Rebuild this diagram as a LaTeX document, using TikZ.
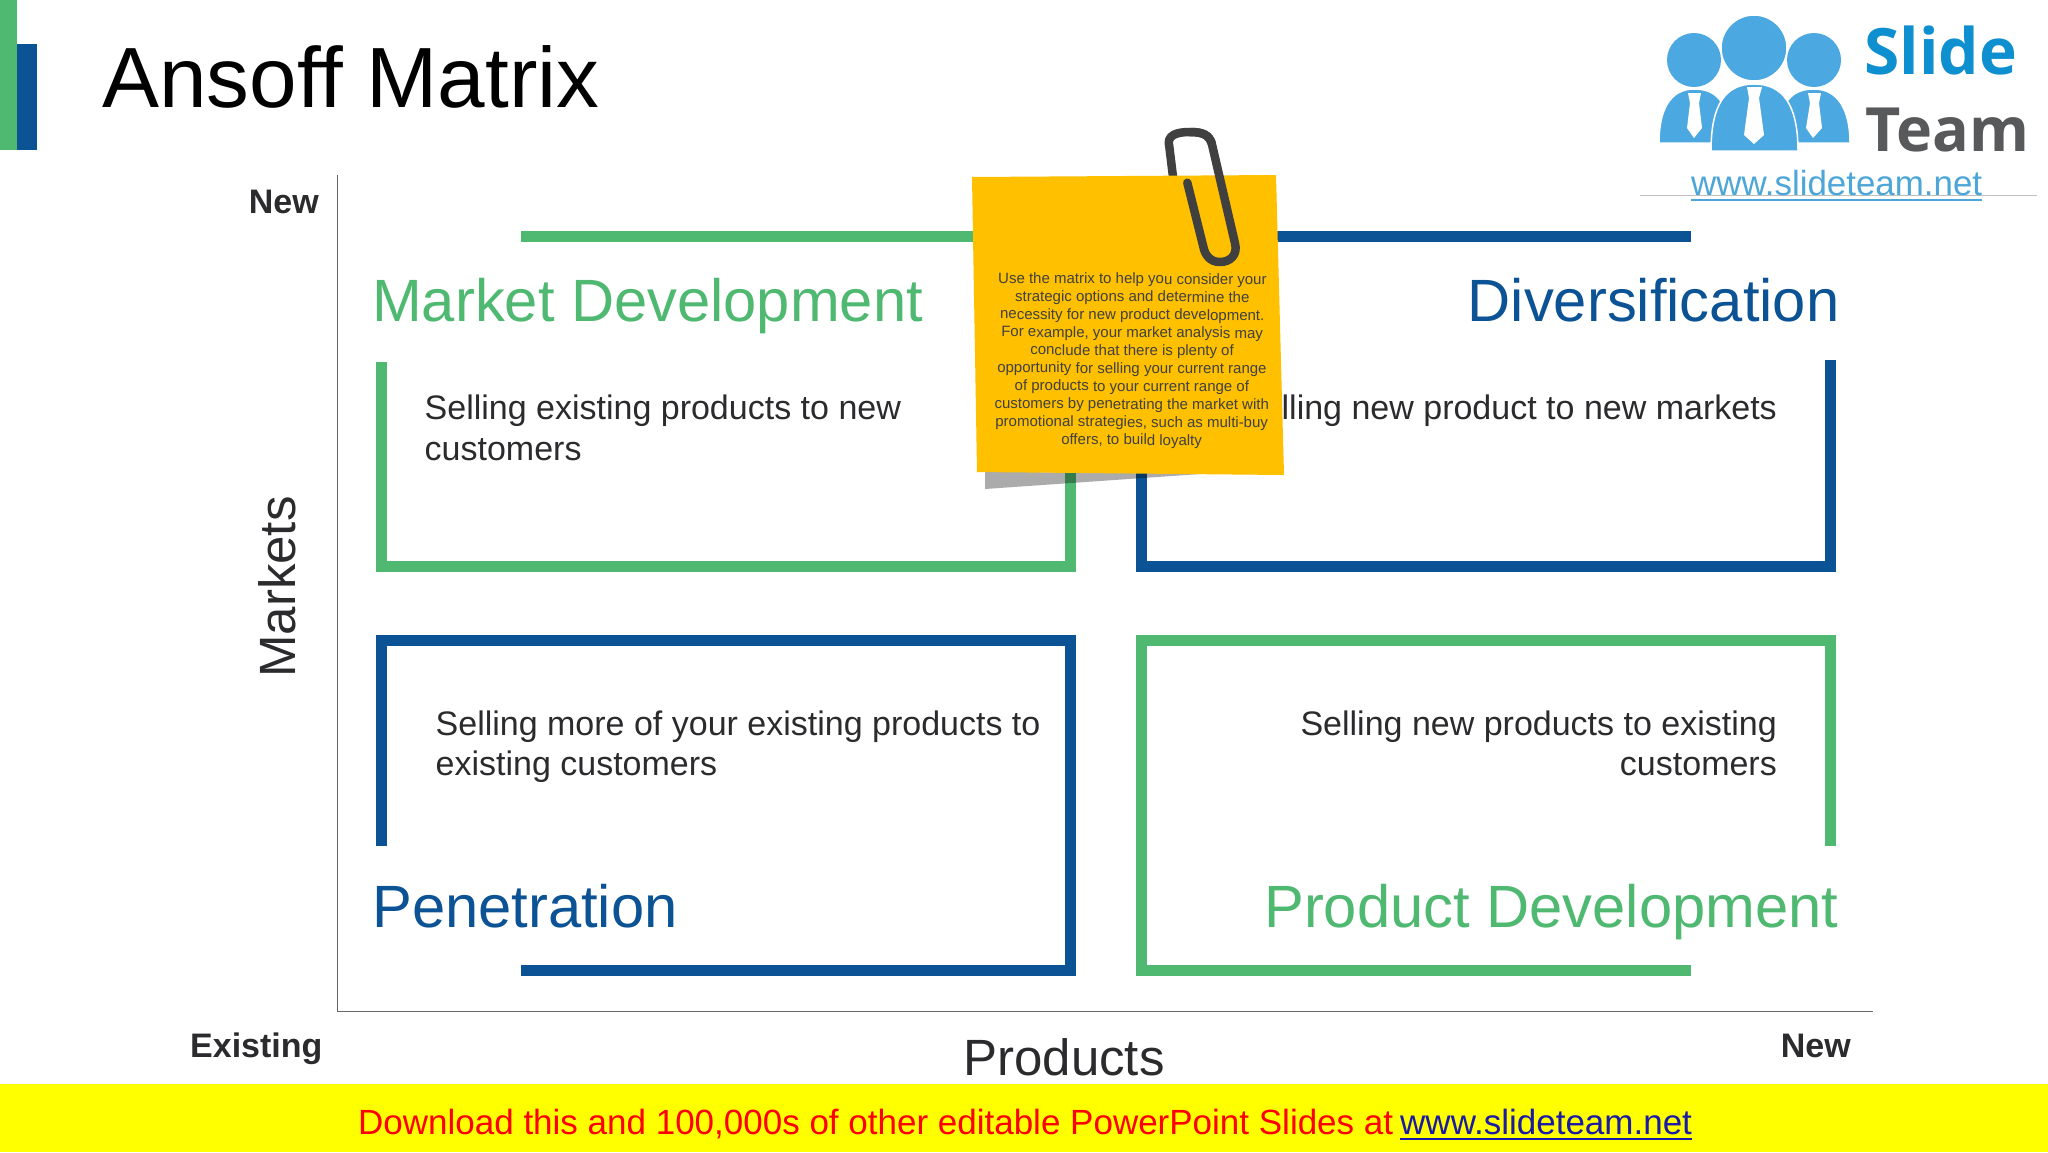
\documentclass[tikz,border=0pt]{standalone}
\usepackage{fontspec}
\setmainfont{Liberation Sans}
\newfontfamily\logofont{Open Sans}
\definecolor{mygreen}{HTML}{4FB971}
\definecolor{myblue}{HTML}{0B5394}
\definecolor{sticky}{HTML}{FFC000}
\definecolor{logoblue}{HTML}{4CA8E0}
\definecolor{logotext}{HTML}{0E8FCF}
\definecolor{logogray}{HTML}{58595B}
\definecolor{logourl}{HTML}{4CA6D8}
\definecolor{ink}{HTML}{2B2B2E}
\definecolor{clipgray}{HTML}{404040}
\definecolor{banneryellow}{HTML}{FFFF00}
\definecolor{bannerred}{HTML}{FF0000}
\definecolor{bannerlink}{HTML}{1A1AA6}
\newcommand{\fs}[2]{\fontsize{#1}{#2}\selectfont}
\tikzset{
 x=1pt,y=-1pt,
 gframe/.style={draw=mygreen,line width=11pt,line cap=butt,line join=miter},
 bframe/.style={draw=myblue,line width=11pt,line cap=butt,line join=miter},
 axisline/.style={draw=black!60,line width=1pt},
 heading/.style={inner sep=0pt,font=\fs{59.7}{60}},
 bodytext/.style={inner sep=0pt,font=\fs{34}{40.5},text=ink,align=left},
 bodyright/.style={inner sep=0pt,font=\fs{34}{40.5},text=ink,align=right},
 axislabel/.style={inner sep=0pt,font=\fs{51}{52},text=ink},
 endlabel/.style={inner sep=0pt,font=\bfseries\fs{34}{34},text=ink},
 person/.style={fill=logoblue,draw=white,line width=1.5pt},
 tie/.style={fill=white},
 clipwire/.style={draw=clipgray,line width=8.5pt,line cap=round,line join=round},
}
\begin{document}
\begin{tikzpicture}
\useasboundingbox (0,0) rectangle (2048,1152);
\fill[white] (0,0) rectangle (2048,1152);
% corner bars
\fill[myblue] (17,44) rectangle (37,150);
\fill[mygreen] (0,0) rectangle (17,150);
\node[inner sep=0pt,anchor=base west,font=\fs{85.5}{86}] (title) at (102,107) {Ansoff Matrix};
% axes
\coordinate (axtop) at (337,175);
\coordinate (axorigin) at (337,1011);
\coordinate (axright) at (1873,1011);
\draw[axisline] (axtop) -- (axorigin) -- (axright);
\node[endlabel,anchor=base east] (newy) at (319,213) {New};
\node[endlabel,anchor=base west] (existing) at (190,1057) {Existing};
\node[endlabel,anchor=base east] (newx) at (1851,1057) {New};
\node[axislabel,rotate=90] (markets) at (277,587) {Markets};
\node[axislabel] (products) at (1064,1057) {Products};
% frames
\draw[gframe] (521,236.5) -- (1000,236.5);
\draw[gframe] (381.5,362) -- (381.5,566) -- (1070,566) -- (1070,440);
\draw[bframe] (1250,236.5) -- (1691,236.5);
\draw[bframe] (1830,360) -- (1830,566) -- (1141.5,566) -- (1141.5,440);
\draw[bframe] (381.5,846) -- (381.5,640.5) -- (1070,640.5) -- (1070,970) -- (521,970);
\draw[gframe] (1830,846) -- (1830,640.5) -- (1141.5,640.5) -- (1141.5,970) -- (1691,970);
% headings
\node[heading,anchor=base west,text=mygreen] (mdh) at (372,321.5) {Market Development};
\node[heading,anchor=base east,text=myblue] (dih) at (1839.5,321.5) {Diversification};
\node[heading,anchor=base west,text=myblue] (peh) at (372,927.5) {Penetration};
\node[heading,anchor=base east,text=mygreen] (pdh) at (1838.5,927.5) {Product Development};
% body
\node[bodytext,anchor=north west] (mdb) at (424.5,395) {Selling existing products to new\\customers};
\node[bodyright,anchor=north east] (dib) at (1777,395) {Selling new product to new markets};
\node[bodytext,anchor=north west] (peb) at (435.5,710.5) {Selling more of your existing products to\\existing customers};
\node[bodyright,anchor=north east] (pdb) at (1777,710.5) {Selling new products to existing\\customers};
% clip, the part behind the note
\draw[clipwire] (1174,185) -- (1169.3,146.7) .. controls (1166,135) and (1177,132) .. (1190,132) .. controls (1203,132) and (1209,135) .. (1211.7,143.3);
% sticky note
\fill[black,opacity=0.33] (985,472) -- (985,489) -- (1215,473) -- cycle;
\fill[sticky] (972,177) -- (1276,175) -- (1284,475) -- (977,472) -- cycle;
\node[inner sep=0pt,align=center,text=black!75,font=\fs{15}{17.9},rotate=-0.3] (note) at (1132,360.5) {Use the matrix to help you consider your\\
strategic options and determine the\\
necessity for new product development.\\
For example, your market analysis may\\
conclude that there is plenty of\\
opportunity for selling your current range\\
of products to your current range of\\
customers by penetrating the market with\\
promotional strategies, such as multi-buy\\
offers, to build loyalty};
% clip, the part in front of the note
\draw[clipwire] (1190,132) .. controls (1203,132) and (1209,135) .. (1211.7,143.3) -- (1235,243.3) .. controls (1238,255) and (1230,262) .. (1220,262) .. controls (1210,262) and (1205,255) .. (1203.3,246.7) -- (1187.3,182.7);
% logo
\draw[person] (1659,143) .. controls (1659,110) and (1670,89) .. (1694,89) .. controls (1715,89) and (1730,100) .. (1730,143) -- cycle;
\draw[person] (1850,143) .. controls (1850,110) and (1838,89) .. (1814,89) .. controls (1793,89) and (1778,100) .. (1778,143) -- cycle;
\draw[person] (1711,151) .. controls (1711,105) and (1725,84) .. (1754,84) .. controls (1783,84) and (1798,105) .. (1798,151) -- cycle;
\fill[logoblue] (1694,60) circle (27);
\fill[logoblue] (1814,60) circle (27);
\draw[person] (1754,48) circle (33);
\fill[tie] (1688,93) -- (1701,93) -- (1699,103) -- (1702,128) -- (1694,138) -- (1687,128) -- (1690,103) -- cycle;
\fill[tie] (1747,87) -- (1762,87) -- (1759,98) -- (1764,135) -- (1754,144) -- (1744,135) -- (1749,98) -- cycle;
\fill[tie] (1808,93) -- (1821,93) -- (1819,103) -- (1822,128) -- (1813,138) -- (1806,128) -- (1810,103) -- cycle;
\node[inner sep=0pt,anchor=base west,font=\logofont\bfseries\fs{64}{64},text=logotext] (lg1) at (1864,74) {Slide};
\node[inner sep=0pt,anchor=base west,font=\logofont\bfseries\fs{61}{61},text=logogray] (lg2) at (1865,151) {Team};
\draw[black!25,line width=0.8pt] (1640,195) -- (2037,195);
\node[inner sep=0pt,anchor=base west,font=\fs{34.9}{36},text=logourl] (lgu) at (1691,195) {www.slideteam.net};
\draw[logourl,line width=2.5pt] ([yshift=-5pt]lgu.base west) -- ([yshift=-5pt]lgu.base east);
% banner
\fill[banneryellow] (0,1084) rectangle (2048,1152);
\node[inner sep=0pt,anchor=base west,font=\fs{35}{35},text=bannerred] (ban) at (358,1134) {Download this and 100,000s of other editable PowerPoint Slides at};
\node[inner sep=0pt,anchor=base west,font=\fs{35}{35},text=bannerlink] (banu) at (1400,1134) {www.slideteam.net};
\draw[bannerlink,line width=2pt] ([yshift=-5pt]banu.base west) -- ([yshift=-5pt]banu.base east);
\end{tikzpicture}
\end{document}
